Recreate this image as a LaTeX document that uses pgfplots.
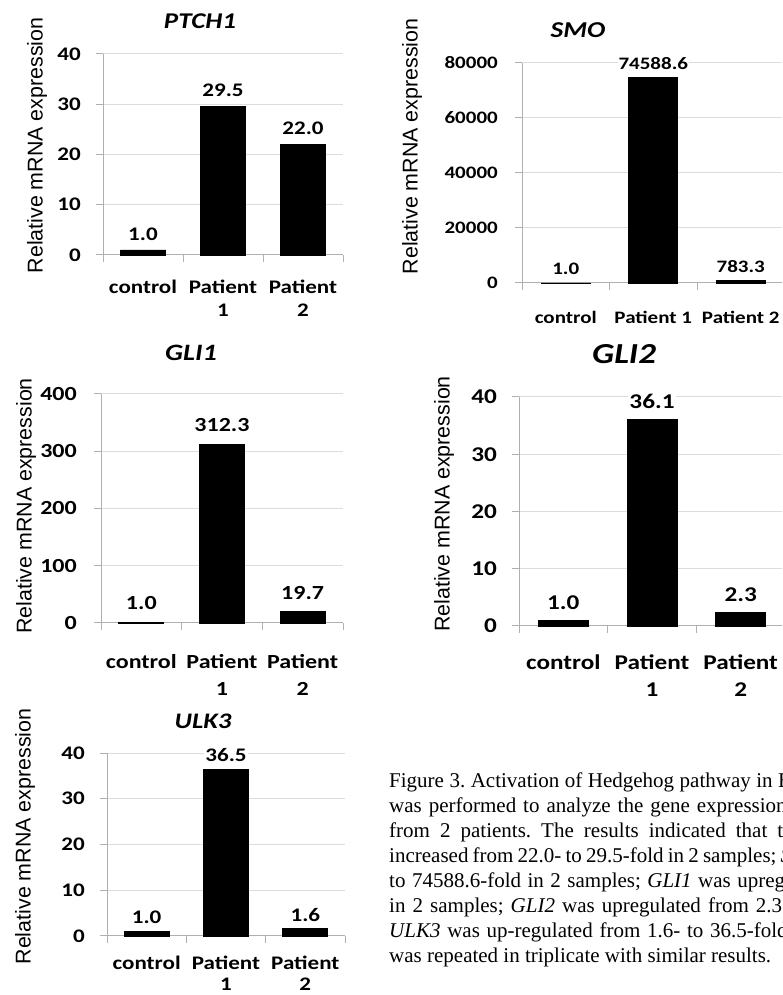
\documentclass[border=0pt]{standalone}
\usepackage{pgfplots}
\pgfplotsset{compat=1.18}
\usepackage{fontspec}
\setmainfont{Liberation Serif}
\newfontfamily\cb[FakeStretch=1.2]{Carlito}
\newfontfamily\arial{Liberation Sans}
\definecolor{axgray}{HTML}{B0B0B0}
\definecolor{gridgray}{HTML}{DCDCDC}
\newcommand\cbf[2]{\cb\bfseries\fontsize{#1}{#2}\selectfont}
\frenchspacing
\pgfplotsset{
  panel/.style={
    scale only axis, anchor=south west, ybar, xmin=-0.5, xmax=2.5, ymin=0,
    axis x line*=bottom, axis y line*=left,
    axis line style={draw=axgray, line width=1pt},
    tick align=outside, major tick length=7pt,
    tick style={draw=axgray, line width=1pt},
    xtick={-0.5,0.5,1.5,2.5}, xticklabels={},
    ymajorgrids, grid style={draw=gridgray, line width=1pt},
    scaled y ticks=false,
    /pgf/number format/1000 sep={},
    /pgf/number format/assume math mode=true,
    yticklabel style={anchor=east, inner sep=0pt},
    point meta=explicit symbolic,
    nodes near coords,
    every node near coord/.append style={anchor=center, text=black, fill=white, inner sep=1pt},
    clip=false,
  },
  bars/.style={fill=black, draw=black, line width=0.8pt},
}
\begin{document}
\begin{tikzpicture}[x=1pt,y=1pt]
\useasboundingbox (0,0) rectangle (782,995);
\clip (0,0) rectangle (782,995);
% ---------------- PTCH1
\begin{axis}[panel, at={(103pt,740pt)}, width=240pt, height=201pt, bar width=45pt,
  ymax=40, ytick={0,10,...,40},
  yticklabel style={font=\cbf{19.2}{23}, xshift=-15pt},
  extra x ticks={0,1,2}, extra x tick labels={{\strut control},{\strut Patient\\1},{\strut Patient\\2}},
  extra x tick style={major tick length=0pt, tick label style={align=center, anchor=north, inner sep=0pt, font=\cbf{19.2}{23}, yshift=-22pt}},
  every node near coord/.append style={font=\cbf{19.2}{23}, yshift=16pt}]
\addplot[bars] coordinates {(0,1.0) [1.0] (1,29.5) [29.5] (2,22.0) [22.0]};
\end{axis}
% ---------------- SMO
\begin{axis}[panel, at={(522pt,712pt)}, width=262.5pt, height=220pt, bar width=49pt,
  ymax=80000, ytick={0,20000,...,80000},
  yticklabel style={font=\cbf{17.5}{21}, xshift=-17pt},
  extra x ticks={0,1,2}, extra x tick labels={{\strut control},{\strut Patient 1},{\strut Patient 2}},
  extra x tick style={major tick length=0pt, tick label style={align=center, anchor=north, inner sep=0pt, font=\cbf{17.5}{21}, yshift=-26pt}},
  every node near coord/.append style={font=\cbf{17.5}{21}, yshift=14pt}]
\addplot[bars] coordinates {(0,1.0) [1.0] (1,74588.6) [74588.6] (2,783.3) [783.3]};
\end{axis}
% ---------------- GLI1
\begin{axis}[panel, at={(101pt,372pt)}, width=242pt, height=229pt, bar width=45pt,
  ymax=400, ytick={0,100,...,400},
  yticklabel style={font=\cbf{20}{27}, xshift=-17pt},
  extra x ticks={0,1,2}, extra x tick labels={{\strut control},{\strut Patient\\1},{\strut Patient\\2}},
  extra x tick style={major tick length=0pt, tick label style={align=center, anchor=north, inner sep=0pt, font=\cbf{20}{27}, yshift=-26pt}},
  every node near coord/.append style={font=\cbf{20}{27}, yshift=19pt}]
\addplot[bars] coordinates {(0,1.0) [1.0] (1,312.3) [312.3] (2,19.7) [19.7]};
\end{axis}
% ---------------- GLI2
\begin{axis}[panel, at={(519pt,369pt)}, width=266pt, height=229pt, bar width=50pt,
  ymax=40, ytick={0,10,...,40},
  yticklabel style={font=\cbf{21}{27}, xshift=-15pt},
  extra x ticks={0,1,2}, extra x tick labels={{\strut control},{\strut Patient\\1},{\strut Patient\\2}},
  extra x tick style={major tick length=0pt, tick label style={align=center, anchor=north, inner sep=0pt, font=\cbf{21}{27}, yshift=-24pt}},
  every node near coord/.append style={font=\cbf{21}{27}, yshift=18pt}]
\addplot[bars] coordinates {(0,1.0) [1.0] (1,36.1) [36.1] (2,2.3) [2.3]};
\end{axis}
% ---------------- ULK3
\begin{axis}[panel, at={(107pt,59pt)}, width=238pt, height=183pt, bar width=45pt,
  ymax=40, ytick={0,10,...,40},
  yticklabel style={font=\cbf{19.2}{23}, xshift=-15pt},
  extra x ticks={0,1,2}, extra x tick labels={{\strut control},{\strut Patient\\1},{\strut Patient\\2}},
  extra x tick style={major tick length=0pt, tick label style={align=center, anchor=north, inner sep=0pt, font=\cbf{19.2}{21.5}, yshift=-18pt}},
  every node near coord/.append style={font=\cbf{19.2}{23}, yshift=14pt}]
\addplot[bars] coordinates {(0,1.0) [1.0] (1,36.5) [36.5] (2,1.6) [1.6]};
\end{axis}
% ---------------- titles
\node[font=\cbf{22.5}{27}\itshape] at (200,973.3) {PTCH1};
\node[font=\cbf{22.7}{27}\itshape] at (578,965) {SMO};
\node[font=\cbf{23.5}{28}\itshape] at (191,642) {GLI1};
\node[font=\cbf{29}{34}\itshape] at (624,641) {GLI2};
\node[font=\cbf{22.2}{27}\itshape] at (203,274) {ULK3};
% ---------------- y labels
\foreach \x/\y in {42.7/849.5, 417.7/848.5, 31.7/489, 449.7/491, 30.7/158.5}
  \node[rotate=90, anchor=base, inner sep=0pt, font=\arial\fontsize{21.4}{25}\selectfont] at (\x,\y) {Relative mRNA expression};
% ---------------- caption
\begin{scope}[every node/.style={anchor=base west, inner sep=0pt, font=\fontsize{21}{25}\selectfont}]
\node at (389,207) {\makebox[403pt][s]{Figure 3. Activation of Hedgehog pathway in B}};
\node at (389,182) {\makebox[397.5pt][s]{was performed to analyze the gene expression}};
\node at (389,157) {\makebox[394pt][s]{from 2 patients. The results indicated that t}};
\node at (389,132) {\makebox[402pt][s]{increased from 22.0- to 29.5-fold in 2 samples; \textit{S}}};
\node at (389,107) {\makebox[396pt][s]{to 74588.6-fold in 2 samples; \textit{GLI1} was upreg}};
\node at (389,82) {\makebox[393pt][s]{in 2 samples; \textit{GLI2} was upregulated from 2.3}};
\node at (389,57) {\makebox[398.5pt][s]{\textit{ULK3} was up-regulated from 1.6- to 36.5-fold}};
\node at (389,32) {was repeated in triplicate with similar results.};
\end{scope}
\end{tikzpicture}
\end{document}
